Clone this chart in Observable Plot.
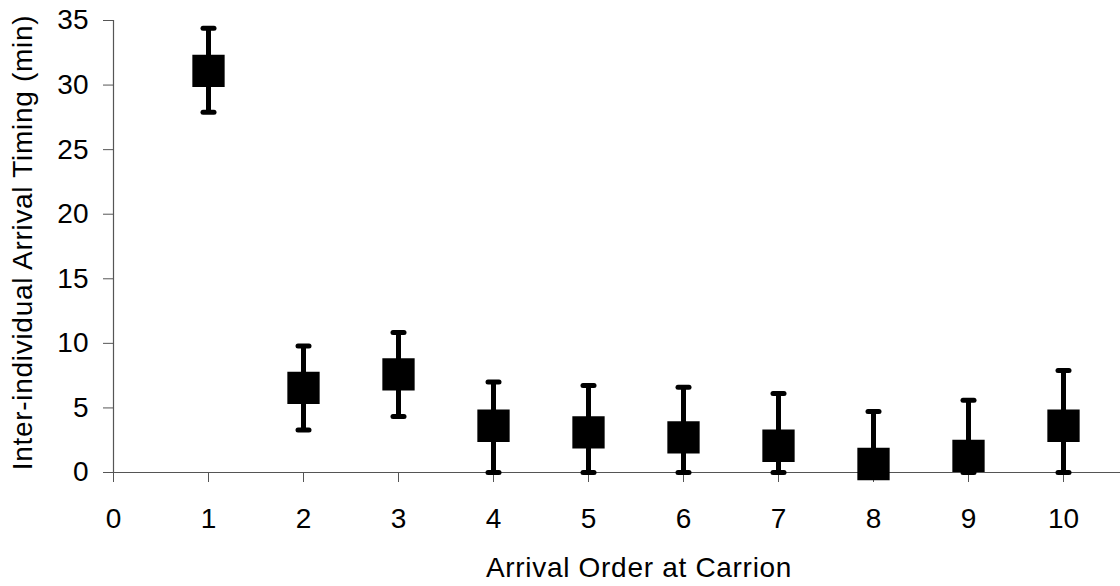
<!DOCTYPE html>
<html>
<head>
<meta charset="utf-8">
<script src="https://cdn.jsdelivr.net/npm/d3@7"></script>
<script src="https://cdn.jsdelivr.net/npm/@observablehq/plot@0.6"></script>
<style>
  html, body { margin: 0; padding: 0; background: #fff; }
  #chart { width: 1120px; height: 586px; }
</style>
</head>
<body>
<div id="chart"></div>
<script>
// Data
const arrivalOrder = [1, 2, 3, 4, 5, 6, 7, 8, 9, 10];
const meanTiming   = [31.1, 6.55, 7.6, 3.62, 3.1, 2.72, 2.07, 0.66, 1.29, 3.62];
const upperTiming  = [34.4, 9.8, 10.84, 7.0, 6.73, 6.6, 6.11, 4.72, 5.6, 7.9];
const lowerTiming  = [27.9, 3.3, 4.33, 0, 0, 0, 0, 0, 0, 0];
const xTicks = [0, 1, 2, 3, 4, 5, 6, 7, 8, 9, 10];
const yTicks = [0, 5, 10, 15, 20, 25, 30, 35];
const xTitle = "Arrival Order at Carrion";
const yTitle = "Inter-individual Arrival Timing (min)";

const rows = arrivalOrder.map((x, i) => ({x, mean: meanTiming[i], hi: upperTiming[i], lo: lowerTiming[i]}));

const capSymbol = {
  draw(context) {
    context.moveTo(-5.5, 0);
    context.lineTo(5.5, 0);
  }
};

const axisColor = "#555";
const fs = 28;

const chart = Plot.plot({
  width: 1120,
  height: 586,
  marginLeft: 113,
  marginRight: 0,
  marginTop: 20,
  marginBottom: 114,
  style: {fontFamily: "Arial, 'Liberation Sans', sans-serif", fontSize: fs + "px", color: "#000", background: "#fff"},
  x: {domain: [0, 10.6], ticks: xTicks},
  y: {domain: [0, 35], ticks: yTicks},
  marks: [
    Plot.axisX({ticks: xTicks, tickSize: 10, tickPadding: 26, label: null, stroke: axisColor, fill: "#000", fontSize: fs}),
    Plot.axisY({ticks: yTicks, tickSize: 10, tickPadding: 15, label: null, stroke: axisColor, fill: "#000", fontSize: fs}),
    Plot.ruleY([0], {stroke: axisColor, strokeWidth: 1.2}),
    Plot.ruleX([0], {stroke: axisColor, strokeWidth: 1.2}),
    Plot.ruleX(rows, {x: "x", y1: "lo", y2: "hi", stroke: "#000", strokeWidth: 5}),
    Plot.dot(rows, {x: "x", y: "hi", symbol: capSymbol, stroke: "#000", strokeWidth: 5, strokeLinecap: "round", fill: "none"}),
    Plot.dot(rows, {x: "x", y: "lo", symbol: capSymbol, stroke: "#000", strokeWidth: 5, strokeLinecap: "round", fill: "none"}),
    Plot.dot(rows, {x: "x", y: "mean", symbol: "square", r: 32.3 / Math.sqrt(Math.PI), fill: "#000", stroke: "none"}),
    Plot.text([xTitle], {frameAnchor: "bottom", textAnchor: "middle", dx: 22, dy: 96, fontSize: fs, fill: "#000", lineAnchor: "middle", style: "letter-spacing:0.65px"}),
    Plot.text([yTitle], {frameAnchor: "left", textAnchor: "middle", rotate: -90, dx: -90, dy: -4, fontSize: fs, fill: "#000", lineAnchor: "middle"})
  ]
});

// slight letter spacing on the titles to match the reference's wider text rendering
chart.querySelectorAll("text").forEach(t => {
  const s = t.textContent;
  if (s === xTitle || s === yTitle) t.setAttribute("letter-spacing", "0.7");
});

document.getElementById("chart").appendChild(chart);
</script>
</body>
</html>
